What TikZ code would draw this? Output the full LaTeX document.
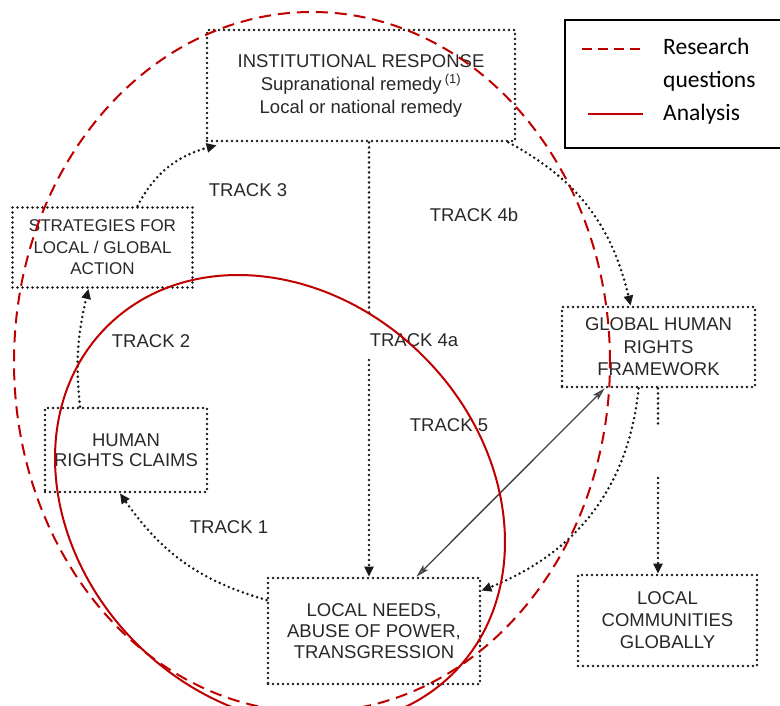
\documentclass[tikz,border=0pt]{standalone}
\usepackage{fontspec}
\setmainfont{Liberation Sans}
\newfontfamily\legfont{Carlito}
\usetikzlibrary{arrows.meta,bending}
\definecolor{rqred}{RGB}{192,0,0}
\definecolor{ink}{RGB}{40,40,40}
\definecolor{dotink}{RGB}{25,25,25}
\begin{document}
\begin{tikzpicture}[x=1pt,y=1pt,
  dotline/.style={draw=dotink, line width=2.8pt, line cap=round, dash pattern=on 0pt off 5pt},
  boxnode/.style={dotline, align=center, inner sep=0pt, text=ink, font=\fontsize{18.5}{22}\selectfont},
  trk/.style={text=ink, font=\fontsize{18.5}{22}\selectfont, inner sep=0pt},
  arrowend/.style={-{Triangle[width=9pt,length=10pt]}},
  twoway/.style={draw=black!75, line width=1.3pt, {Stealth[length=13pt,width=7pt,inset=3pt,fill=black!50]}-{Stealth[length=13pt,width=7pt,inset=3pt,fill=black!50]}},
  legtext/.style={anchor=base west, inner sep=0pt, font=\legfont\fontsize{23.5}{33}\selectfont},
  rqline/.style={draw=rqred, line width=2pt},
]
\useasboundingbox (0,0) rectangle (780,-706);
\fill[white] (0,0) rectangle (780,-706);

% boxes
\node[boxnode, minimum width=308pt, minimum height=111pt, font=\fontsize{18.5}{23}\selectfont] (inst) at (361,-85.5)
  {INSTITUTIONAL RESPONSE\\Supranational remedy\,\textsuperscript{(1)}\\Local or national remedy};
\node[boxnode, minimum width=180pt, minimum height=80pt, font=\fontsize{17}{21.5}\selectfont] (strat) at (102.5,-247.5)
  {STRATEGIES FOR\\LOCAL / GLOBAL\\ACTION};
\node[boxnode, minimum width=193pt, minimum height=80pt, font=\fontsize{18.5}{22.5}\selectfont] (global) at (658.5,-347)
  {GLOBAL HUMAN\\RIGHTS\\FRAMEWORK};
\node[boxnode, minimum width=162pt, minimum height=84pt, font=\fontsize{18.5}{20.5}\selectfont] (hrc) at (126,-450)
  {HUMAN\\RIGHTS CLAIMS};
\node[boxnode, minimum width=212pt, minimum height=106pt, font=\fontsize{18.5}{21}\selectfont] (local) at (374,-631)
  {LOCAL NEEDS,\\ABUSE OF POWER,\\TRANSGRESSION};
\node[boxnode, minimum width=179pt, minimum height=91pt, font=\fontsize{18.5}{22}\selectfont] (lcg) at (667.5,-620.5)
  {LOCAL\\COMMUNITIES\\GLOBALLY};

% track labels
\node[trk] (t1) at (229,-527) {TRACK 1};
\node[trk] (t2) at (151,-341) {TRACK 2};
\node[trk] (t3) at (248,-190) {TRACK 3};
\node[trk] (t4b) at (474,-215) {TRACK 4b};
\node[trk] (t4a) at (414,-340) {TRACK 4a};
\node[trk] (t5) at (449,-425) {TRACK 5};

% connectors
\draw[dotline, arrowend] ([yshift=31pt]local.west) to[bend left=20] ([xshift=-6pt]hrc.south);
\draw[dotline, arrowend] ([xshift=-46pt]hrc.north) to[bend left=10] ([xshift=-14pt]strat.south);
\draw[dotline, arrowend] ([xshift=35pt]strat.north) to[bend left=25] ([xshift=11pt,yshift=-3pt]inst.south west);
\draw[dotline, arrowend] ([xshift=-8pt]inst.south east) to[bend left=25] ([xshift=70pt]global.north west);
\coordinate (a4top) at (369,-313);
\coordinate (a4bot) at (369,-360);
\draw[dotline] (a4top |- inst.south) -- (a4top);
\draw[dotline, arrowend] (a4bot) -- (a4bot |- local.north);
\draw[dotline, arrowend] ([xshift=78pt]global.south west) to[bend left=32] ([yshift=-14pt]local.north east);
\coordinate (g1) at (658,-425);
\coordinate (g2) at (658,-478);
\draw[dotline] (g1 |- global.south) -- (g1);
\draw[dotline, arrowend] (g2) -- (g2 |- lcg.north);
\draw[twoway] ([xshift=44pt]global.south west) -- ([xshift=150pt]local.north west);

% legend
\draw[black, line width=1.3pt] (565,-20) rectangle (790,-148);
\coordinate (ld1) at (582,-49);
\coordinate (ld2) at (643,-49);
\coordinate (ls1) at (588,-114);
\coordinate (ls2) at (643,-114);
\draw[rqline, line width=2.5pt, dash pattern=on 10pt off 6pt] (ld1) -- (ld2);
\draw[rqline, line width=2.5pt] (ls1) -- (ls2);
\node[legtext] (lg1) at (663,-55) {Research};
\node[legtext] (lg2) at (663,-88) {questions};
\node[legtext] (lg3) at (663,-121) {Analysis};

% red outlines
\draw[rqline, dash pattern=on 12pt off 7pt] (312,-362) ellipse [x radius=298, y radius=350];
\draw[rqline, rotate around={-45:(280,-500)}] (280,-500) ellipse [x radius=245, y radius=203];
\end{tikzpicture}
\end{document}
